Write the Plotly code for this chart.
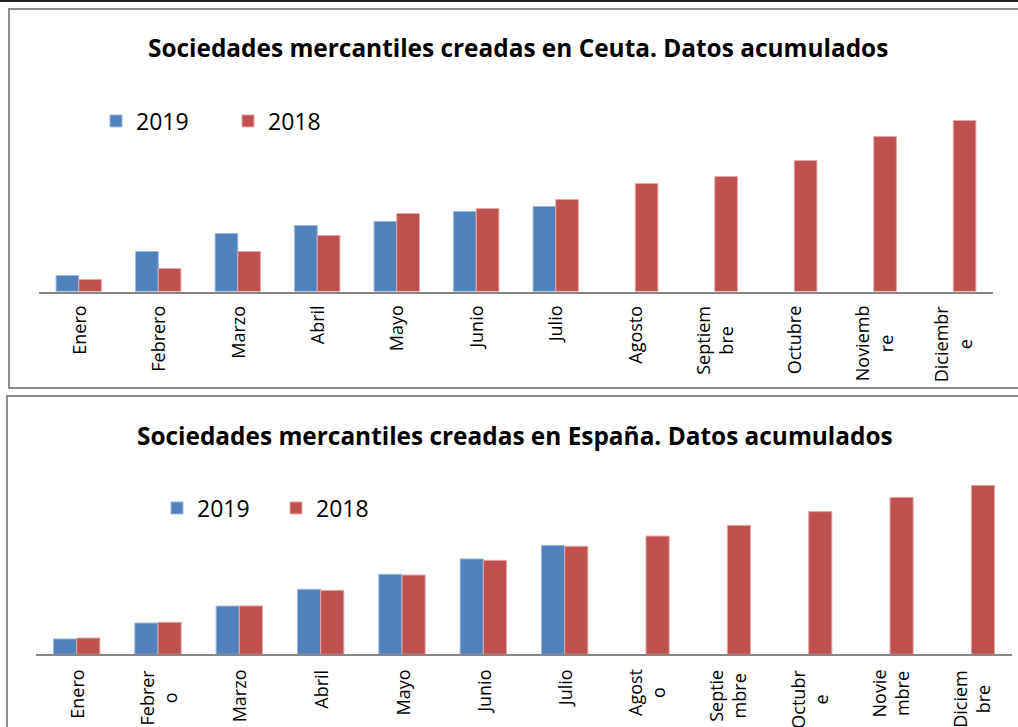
import plotly.graph_objects as go

# ---- data ----
months = ["Enero", "Febrero", "Marzo", "Abril", "Mayo", "Junio", "Julio",
          "Agosto", "Septiembre", "Octubre", "Noviembre", "Diciembre"]
ticks_ceuta = ["Enero", "Febrero", "Marzo", "Abril", "Mayo", "Junio", "Julio",
               "Agosto", "Septiem<br>bre", "Octubre", "Noviemb<br>re", "Diciembr<br>e"]
ticks_espana = ["Enero", "Febrer<br>o", "Marzo", "Abril", "Mayo", "Junio", "Julio",
                "Agost<br>o", "Septie<br>mbre", "Octubr<br>e", "Novie<br>mbre", "Diciem<br>bre"]

ceuta_2019 = [16, 40, 58, 66, 70, 80, 85]
ceuta_2018 = [12, 23, 40, 56, 78, 83, 92, 108, 115, 131, 155, 171]

espana_2019 = [8600, 17500, 27000, 36400, 44800, 53400, 61000]
espana_2018 = [9100, 17900, 27100, 35800, 44400, 52600, 60500, 66200, 72200, 79900, 87900, 94600]

title_ceuta = "Sociedades mercantiles creadas en Ceuta. Datos acumulados"
title_espana = "Sociedades mercantiles creadas en España. Datos acumulados"

W, H = 1018, 727
BLUE, RED = "#4F81BD", "#C0504D"
FONT = "Open Sans"


def px(x):
    return x / W


def py(y):
    return 1 - y / H


fig = go.Figure()
fig.add_trace(go.Bar(x=months[:len(ceuta_2019)], y=ceuta_2019, name="2019",
                     marker=dict(color=BLUE, line=dict(color="#9DB9DC", width=1)),
                     xaxis="x", yaxis="y", legend="legend"))
fig.add_trace(go.Bar(x=months, y=ceuta_2018, name="2018",
                     marker=dict(color=RED, line=dict(color="#E4AAA8", width=1)),
                     xaxis="x", yaxis="y", legend="legend"))
fig.add_trace(go.Bar(x=months[:len(espana_2019)], y=espana_2019, name="2019",
                     marker=dict(color=BLUE, line=dict(color="#9DB9DC", width=1)),
                     xaxis="x2", yaxis="y2", legend="legend2"))
fig.add_trace(go.Bar(x=months, y=espana_2018, name="2018",
                     marker=dict(color=RED, line=dict(color="#E4AAA8", width=1)),
                     xaxis="x2", yaxis="y2", legend="legend2"))

xcommon = dict(type="category", categoryorder="array", categoryarray=months,
               range=[-0.5, 11.5], showline=True, linecolor="#868686", linewidth=2,
               showgrid=False, zeroline=False, ticks="", showticklabels=False,
               fixedrange=True)

legcommon = dict(orientation="h", xanchor="left", yanchor="middle",
                 bgcolor="rgba(0,0,0,0)", borderwidth=0,
                 font=dict(family=FONT, size=23, color="#000000"),
                 entrywidthmode="pixels", itemclick=False,
                 traceorder="normal")

annotations = [
    dict(text="<b>" + title_ceuta + "</b>", x=px(518), y=py(48), xref="paper", yref="paper",
         xanchor="center", yanchor="middle", showarrow=False,
         font=dict(family=FONT, size=24.4, color="#000000")),
    dict(text="<b>" + title_espana + "</b>", x=px(515), y=py(435), xref="paper", yref="paper",
         xanchor="center", yanchor="middle", showarrow=False,
         font=dict(family=FONT, size=24.4, color="#000000")),
]
# category labels (rotated, wrapped, centred lines like the original)
for xref, labels, ytop in (("x", ticks_ceuta, 304.5), ("x2", ticks_espana, 668.5)):
    for m, lab in zip(months, labels):
        annotations.append(dict(text=lab, x=m, xref=xref, y=py(ytop), yref="paper",
                                xanchor="center", yanchor="top", textangle=-90,
                                align="center", showarrow=False, borderpad=0,
                                font=dict(family=FONT, size=18, color="#000000")))

fig.update_layout(
    width=W, height=H, margin=dict(l=0, r=0, t=0, b=0),
    paper_bgcolor="white", plot_bgcolor="rgba(0,0,0,0)",
    barmode="group", bargap=0.43, bargroupgap=0,
    xaxis=dict(xcommon, domain=[px(39), px(993)], anchor="y"),
    yaxis=dict(domain=[py(291.5), py(100)], range=[0, 191.5], visible=False, fixedrange=True),
    xaxis2=dict(xcommon, domain=[px(36), px(1012)], anchor="y2"),
    yaxis2=dict(domain=[py(654.3), py(470)], range=[0, 184.3 * 560], visible=False, fixedrange=True),
    legend=dict(legcommon, x=px(96), y=py(121), entrywidth=87),
    legend2=dict(legcommon, x=px(157), y=py(508), entrywidth=74),
    annotations=annotations,
    shapes=[
        dict(type="line", xref="paper", yref="paper", x0=0, x1=1, y0=py(1), y1=py(1),
             line=dict(color="#222222", width=2)),
        dict(type="rect", xref="paper", yref="paper", x0=px(9), x1=px(1030), y0=py(388), y1=py(9),
             line=dict(color="#8C8C8C", width=2)),
        dict(type="rect", xref="paper", yref="paper", x0=px(7), x1=px(1030), y0=py(760), y1=py(396),
             line=dict(color="#8C8C8C", width=2)),
    ],
    showlegend=True,
)

fig.write_html("out.html", config={"displayModeBar": False},
               post_script="document.body.style.margin='0';document.body.style.overflow='hidden';")
